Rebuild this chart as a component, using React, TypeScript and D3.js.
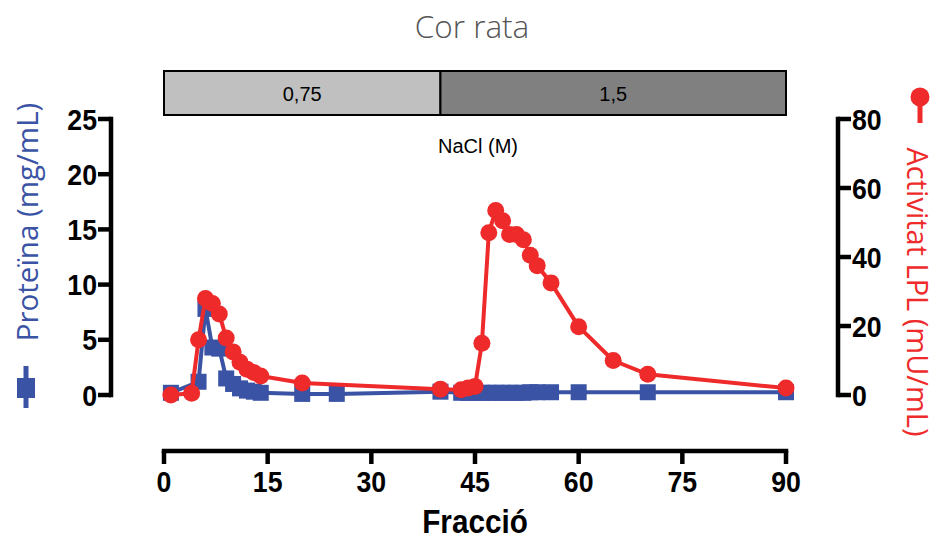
import React from "react";
import * as d3 from "d3";

const fraccioProteina = [1, 5, 6, 7, 8, 9, 10, 11, 12, 13, 14, 20, 25, 40, 43, 44, 45, 46, 47, 48, 49, 50, 51, 52, 53, 54, 56, 60, 70, 90];
const proteina = [0.2, 1.2, 7.8, 4.3, 4.2, 1.5, 1.0, 0.6, 0.4, 0.3, 0.2, 0.1, 0.1, 0.3, 0.2, 0.2, 0.2, 0.2, 0.2, 0.2, 0.2, 0.2, 0.2, 0.2, 0.25, 0.25, 0.25, 0.25, 0.25, 0.25];

const fraccioLPL = [1, 4, 5, 6, 7, 8, 9, 10, 11, 12, 13, 14, 20, 40, 43, 44, 45, 46, 47, 48, 49, 50, 51, 52, 53, 54, 56, 60, 65, 70, 90];
const lpl = [0, 0.5, 16, 28, 26.5, 23.5, 16.5, 12.5, 9.5, 7.5, 6.5, 5.5, 3.5, 1.7, 1.5, 2, 2.5, 15, 47, 53.5, 50.5, 46.5, 46.5, 45, 40.5, 37.5, 32.5, 19.8, 10, 6, 2];

const xTicks = [0, 15, 30, 45, 60, 75, 90];
const leftTicks = [0, 5, 10, 15, 20, 25];
const rightTicks = [0, 20, 40, 60, 80];

const naclStart = [0, 40];
const naclEnd = [40, 90];
const naclLabels = ["0,75", "1,5"];

const BLUE = "#3a53a4";
const RED = "#ee2a2b";
const tickFont = "'Liberation Sans', Arial, sans-serif";
const SX = 0.92;

export default function App() {
  const x = d3.scaleLinear().domain([0, 90]).range([164, 786]);
  const yL = d3.scaleLinear().domain([0, 25]).range([395, 119]);
  const yR = d3.scaleLinear().domain([0, 80]).range([395, 119]);

  const blueLine = d3.line<number>().x((d, i) => x(fraccioProteina[i])).y((d) => yL(d))(proteina) || "";
  const redLine = d3.line<number>().x((d, i) => x(fraccioLPL[i])).y((d) => yR(d))(lpl) || "";

  const axisY = 451;
  const leftX = 111;
  const rightX = 838;
  const sq = 16;

  return (
    <svg width={940} height={540} style={{ position: "absolute", left: 0, top: 0, background: "#fff" }}>
      <text x={472} y={38} textAnchor="middle" fontFamily="'Open Sans', sans-serif" fontWeight={300} fontSize={31.5} fill="#555">
        Cor rata
      </text>

      {naclStart.map((s, i) => (
        <g key={i}>
          <rect x={x(s)} y={71} width={x(naclEnd[i]) - x(s)} height={44} fill={i === 0 ? "#c0c0c0" : "#808080"} stroke="#000" strokeWidth={2} />
          <text x={(x(s) + x(naclEnd[i])) / 2} y={101} textAnchor="middle" fontFamily="'Liberation Sans', Arial, sans-serif" fontSize={20} fill="#000">
            {naclLabels[i]}
          </text>
        </g>
      ))}
      <text x={478} y={153} textAnchor="middle" fontFamily="'Liberation Sans', Arial, sans-serif" fontSize={20} fill="#000">
        NaCl (M)
      </text>

      {/* bottom axis */}
      <line x1={x(0)} x2={x(90)} y1={axisY} y2={axisY} stroke="#000" strokeWidth={4.5} strokeLinecap="square" />
      {xTicks.map((t) => (
        <g key={t}>
          <line x1={x(t)} x2={x(t)} y1={axisY} y2={axisY + 13} stroke="#000" strokeWidth={4.5} />
          <text transform={`translate(${x(t)},492) scale(${SX},1)`} textAnchor="middle" fontFamily={tickFont} fontWeight="bold" fontSize={29} fill="#000">
            {t}
          </text>
        </g>
      ))}
      <text transform={`translate(475,533) scale(0.9,1)`} textAnchor="middle" fontFamily={tickFont} fontWeight="bold" fontSize={33} fill="#000">
        Fracció
      </text>

      {/* left axis */}
      <line x1={leftX} x2={leftX} y1={yL(25)} y2={yL(0)} stroke="#000" strokeWidth={4.5} strokeLinecap="square" />
      {leftTicks.map((t) => (
        <g key={t}>
          <line x1={leftX} x2={leftX - 13} y1={yL(t)} y2={yL(t)} stroke="#000" strokeWidth={4.5} />
          <text transform={`translate(${leftX - 14},${yL(t) + 10.5}) scale(${SX},1)`} textAnchor="end" fontFamily={tickFont} fontWeight="bold" fontSize={29} fill="#000">
            {t}
          </text>
        </g>
      ))}

      {/* right axis */}
      <line x1={rightX} x2={rightX} y1={yR(80)} y2={yR(0)} stroke="#000" strokeWidth={4.5} strokeLinecap="square" />
      {rightTicks.map((t) => (
        <g key={t}>
          <line x1={rightX} x2={rightX + 13} y1={yR(t)} y2={yR(t)} stroke="#000" strokeWidth={4.5} />
          <text transform={`translate(${rightX + 14},${yR(t) + 10.5}) scale(${SX},1)`} textAnchor="start" fontFamily={tickFont} fontWeight="bold" fontSize={29} fill="#000">
            {t}
          </text>
        </g>
      ))}

      {/* left title */}
      <text transform="translate(38,222) rotate(-90)" textAnchor="middle" fontFamily="'Open Sans', sans-serif" fontSize={29.5} fill={BLUE}>
        Proteïna (mg/mL)
      </text>
      <line x1={26} x2={26} y1={366} y2={408} stroke={BLUE} strokeWidth={5} />
      <rect x={26 - 9} y={378} width={18} height={20} fill={BLUE} />

      {/* right title */}
      <text transform="translate(907,292) rotate(90)" textAnchor="middle" fontFamily="'Open Sans', sans-serif" fontSize={29} fill={RED}>
        Activitat LPL (mU/mL)
      </text>
      <line x1={920} x2={920} y1={98} y2={123} stroke={RED} strokeWidth={5} />
      <circle cx={920} cy={97} r={9.5} fill={RED} />

      {/* blue series */}
      <path d={blueLine} fill="none" stroke={BLUE} strokeWidth={4} strokeLinejoin="round" />
      {proteina.map((v, i) => (
        <rect key={i} x={x(fraccioProteina[i]) - sq / 2} y={yL(v) - sq / 2} width={sq} height={sq} fill={BLUE} />
      ))}

      {/* red series */}
      <path d={redLine} fill="none" stroke={RED} strokeWidth={4} strokeLinejoin="round" />
      {lpl.map((v, i) => (
        <circle key={i} cx={x(fraccioLPL[i])} cy={yR(v)} r={8.5} fill={RED} />
      ))}
    </svg>
  );
}
